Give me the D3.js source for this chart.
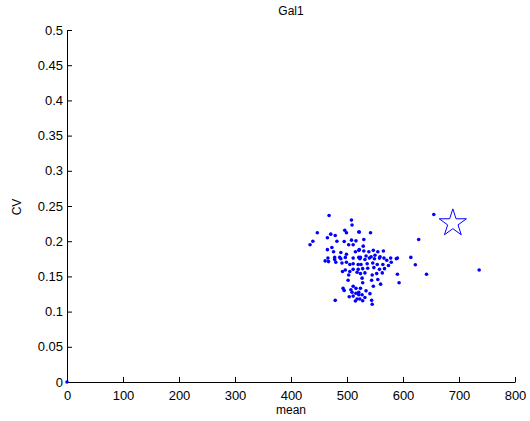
<!DOCTYPE html>
<html>
<head>
<meta charset="utf-8">
<script src="https://cdn.jsdelivr.net/npm/d3@7"></script>
<style>
  body { margin: 0; background: #fff; }
  svg text { font-family: "Liberation Sans", Arial, sans-serif; }
</style>
</head>
<body>
<div id="chart"></div>
<script>
// values
var chartTitle = "Gal1";
var xTicks = [0, 100, 200, 300, 400, 500, 600, 700, 800];
var yTicks = [0, 0.05, 0.1, 0.15, 0.2, 0.25, 0.3, 0.35, 0.4, 0.45, 0.5];

var means = [
  468, 508, 509, 447, 439, 434, 471, 465, 479, 482, 496, 499, 495, 521, 508, 516, 503, 511, 521, 515,
  465, 473, 476, 489, 499, 466, 478, 487, 497, 511, 521,
  522, 542, 530, 628, 529, 522, 530, 539, 547, 555, 565, 534, 543, 550, 559, 524, 566, 578, 590, 614,
  461, 467, 478, 480, 489, 491, 499, 505, 511, 520, 497, 492, 505, 511, 518, 503, 502, 493, 495, 511,
  507, 516, 509, 516, 511, 521, 504, 518, 515, 479,
  523, 532, 540, 549, 558, 571, 579, 588, 622, 642, 593, 590, 525, 536, 546, 554, 564, 574, 520, 528,
  537, 548, 558, 567, 524, 532, 545, 553, 563, 527, 544, 555, 560, 547, 528, 524, 534, 541, 521, 527,
  532, 523, 528, 544, 545, 655, 736, 0
];
var cvs = [
  0.2365, 0.230, 0.223, 0.212, 0.200, 0.195, 0.210, 0.205, 0.208, 0.200, 0.2155, 0.212, 0.1995, 0.213, 0.2015, 0.2005, 0.195, 0.195, 0.187, 0.185,
  0.188, 0.191, 0.185, 0.184, 0.1815, 0.176, 0.177, 0.177, 0.177, 0.176, 0.177,
  0.213, 0.212, 0.2025, 0.2025, 0.193, 0.188, 0.186, 0.185, 0.187, 0.185, 0.186, 0.179, 0.178, 0.180, 0.178, 0.177, 0.176, 0.176, 0.176, 0.177,
  0.172, 0.171, 0.174, 0.170, 0.175, 0.169, 0.170, 0.167, 0.168, 0.167, 0.159, 0.157, 0.157, 0.160, 0.156, 0.152, 0.1445, 0.133, 0.130, 0.136,
  0.131, 0.133, 0.1275, 0.126, 0.122, 0.124, 0.121, 0.118, 0.115, 0.116,
  0.175, 0.174, 0.176, 0.175, 0.176, 0.173, 0.170, 0.175, 0.1665, 0.153, 0.141, 0.153, 0.167, 0.168, 0.169, 0.167, 0.167, 0.1655, 0.160, 0.161,
  0.1615, 0.1625, 0.160, 0.161, 0.154, 0.155, 0.152, 0.154, 0.155, 0.1475, 0.1445, 0.1455, 0.139, 0.136, 0.141, 0.133, 0.1295, 0.1255, 0.1275, 0.124,
  0.120, 0.118, 0.1155, 0.116, 0.1105, 0.238, 0.159, 0
];
// the starred gene
var starMean = [689];
var starCv = [0.227];

var width = 530, height = 421;
var margin = {top: 30, right: 15, bottom: 39, left: 67};

var svg = d3.select("#chart").append("svg")
    .attr("width", width)
    .attr("height", height);

var x = d3.scaleLinear().domain([0, 800]).range([margin.left, width - margin.right]);
var y = d3.scaleLinear().domain([0, 0.5]).range([height - margin.bottom, margin.top]);

var fmt = function(d){ return String(+d.toFixed(2)) };

// axes, ticks pointing inward like matlab
svg.append("g")
    .attr("transform", "translate(0," + y(0) + ")")
    .call(d3.axisBottom(x).tickValues(xTicks).tickSizeInner(-5).tickSizeOuter(0).tickPadding(9).tickFormat(fmt))
    .call(function(g){
        g.select(".domain").attr("stroke", "#000");
        g.selectAll("text").attr("font-size", "13px").attr("fill", "#000");
    });

svg.append("g")
    .attr("transform", "translate(" + x(0) + ",0)")
    .call(d3.axisLeft(y).tickValues(yTicks).tickSizeInner(-5).tickSizeOuter(0).tickPadding(4).tickFormat(fmt))
    .call(function(g){
        g.select(".domain").attr("stroke", "#000");
        g.selectAll("text").attr("font-size", "13px").attr("fill", "#000");
    });

var pts = means.map(function(m, i){ return {mean: m, cv: cvs[i]} });

svg.append("g")
    .selectAll("circle")
    .data(pts)
    .enter().append("circle")
    .attr("cx", function(d){ return x(d.mean) })
    .attr("cy", function(d){ return y(d.cv) })
    .attr("r", 1.8)
    .attr("fill", "#0000ff");

var star = d3.symbol().type(d3.symbolStar).size(230);
svg.append("g")
    .selectAll("path")
    .data(starMean.map(function(m, i){ return {mean: m, cv: starCv[i]} }))
    .enter().append("path")
    .attr("d", star)
    .attr("transform", function(d){ return "translate(" + x(d.mean) + "," + (y(d.cv) + 1) + ")" })
    .attr("fill", "none")
    .attr("stroke", "#0000ff")
    .attr("stroke-width", 1);

svg.append("text")
    .attr("x", (x(0) + x(800)) / 2)
    .attr("y", 15)
    .attr("text-anchor", "middle")
    .attr("font-size", "12px")
    .text(chartTitle);

svg.append("text")
    .attr("x", (x(0) + x(800)) / 2)
    .attr("y", 414)
    .attr("text-anchor", "middle")
    .attr("font-size", "12px")
    .text("mean");

svg.append("text")
    .attr("transform", "translate(21," + (y(0.25) + 1) + ") rotate(-90)")
    .attr("text-anchor", "middle")
    .attr("font-size", "12px")
    .text("CV");
</script>
</body>
</html>
